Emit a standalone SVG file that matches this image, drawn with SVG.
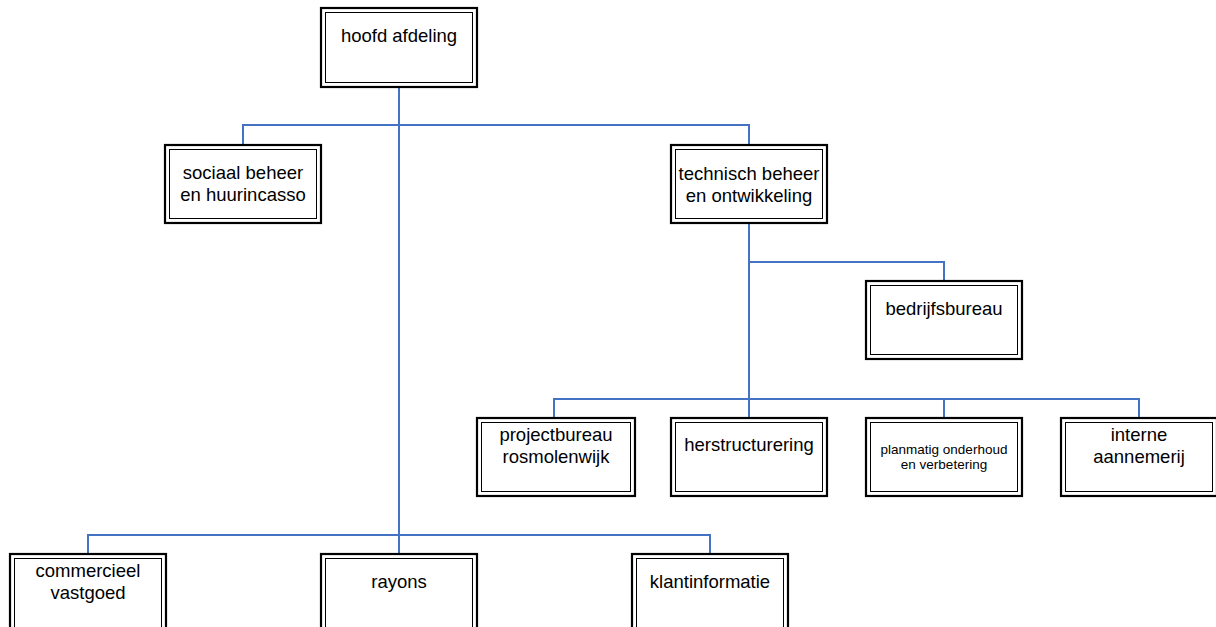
<svg xmlns="http://www.w3.org/2000/svg" width="1216" height="627" viewBox="0 0 1216 627">
<style>
.o{fill:#fff;stroke:#000;stroke-width:2.2}
.i{fill:none;stroke:#000;stroke-width:1}
.t{font-family:"Liberation Sans",Arial,sans-serif;font-size:18.5px;fill:#000;text-anchor:middle}
.s{font-size:13.5px}
.c{fill:none;stroke:#4472C4;stroke-width:2}
</style>
<rect width="1216" height="627" fill="#fff"/>
<g id="connectors" class="c">
<path d="M399 87V554"/>
<path d="M243 145V125H749V145"/>
<path d="M749 223V418"/>
<path d="M749 262H944V281"/>
<path d="M554 418V399H1139V418M944 399V418"/>
<path d="M88 554V535H710V554"/>
</g>
<g id="hoofd">
<rect class="o" x="321" y="8" width="156" height="79"/><rect class="i" x="325.5" y="12.5" width="147" height="70"/>
<text class="t" x="399" y="42">hoofd afdeling</text>
</g>
<g id="sociaal">
<rect class="o" x="165" y="145" width="156" height="78"/><rect class="i" x="169.5" y="149.5" width="147" height="69"/>
<text class="t" x="243" y="178.5">sociaal beheer</text><text class="t" x="243" y="200.5">en huurincasso</text>
</g>
<g id="technisch">
<rect class="o" x="671" y="145" width="156" height="78"/><rect class="i" x="675.5" y="149.5" width="147" height="69"/>
<text class="t" x="749" y="180">technisch beheer</text><text class="t" x="749" y="202">en ontwikkeling</text>
</g>
<g id="bedrijfsbureau">
<rect class="o" x="866" y="281" width="156" height="78"/><rect class="i" x="870.5" y="285.5" width="147" height="69"/>
<text class="t" x="944" y="315">bedrijfsbureau</text>
</g>
<g id="projectbureau">
<rect class="o" x="477" y="418" width="158" height="78"/><rect class="i" x="481.5" y="422.5" width="149" height="69"/>
<text class="t" x="556" y="440.5">projectbureau</text><text class="t" x="556" y="462.5">rosmolenwijk</text>
</g>
<g id="herstructurering">
<rect class="o" x="671" y="418" width="156" height="78"/><rect class="i" x="675.5" y="422.5" width="147" height="69"/>
<text class="t" x="749" y="451">herstructurering</text>
</g>
<g id="planmatig">
<rect class="o" x="866" y="418" width="156" height="78"/><rect class="i" x="870.5" y="422.5" width="147" height="69"/>
<text class="t s" x="944" y="454">planmatig onderhoud</text><text class="t s" x="944" y="469">en verbetering</text>
</g>
<g id="interne">
<rect class="o" x="1061" y="418" width="156" height="78"/><rect class="i" x="1065.5" y="422.5" width="147" height="69"/>
<text class="t" x="1139" y="440.5">interne</text><text class="t" x="1139" y="462.5">aannemerij</text>
</g>
<g id="commercieel">
<rect class="o" x="10" y="554" width="156" height="78"/><rect class="i" x="14.5" y="558.5" width="147" height="69"/>
<text class="t" x="88" y="577">commercieel</text><text class="t" x="88" y="599">vastgoed</text>
</g>
<g id="rayons">
<rect class="o" x="321" y="554" width="156" height="78"/><rect class="i" x="325.5" y="558.5" width="147" height="69"/>
<text class="t" x="399" y="588">rayons</text>
</g>
<g id="klantinformatie">
<rect class="o" x="632" y="554" width="156" height="78"/><rect class="i" x="636.5" y="558.5" width="147" height="69"/>
<text class="t" x="710" y="588">klantinformatie</text>
</g>
</svg>
